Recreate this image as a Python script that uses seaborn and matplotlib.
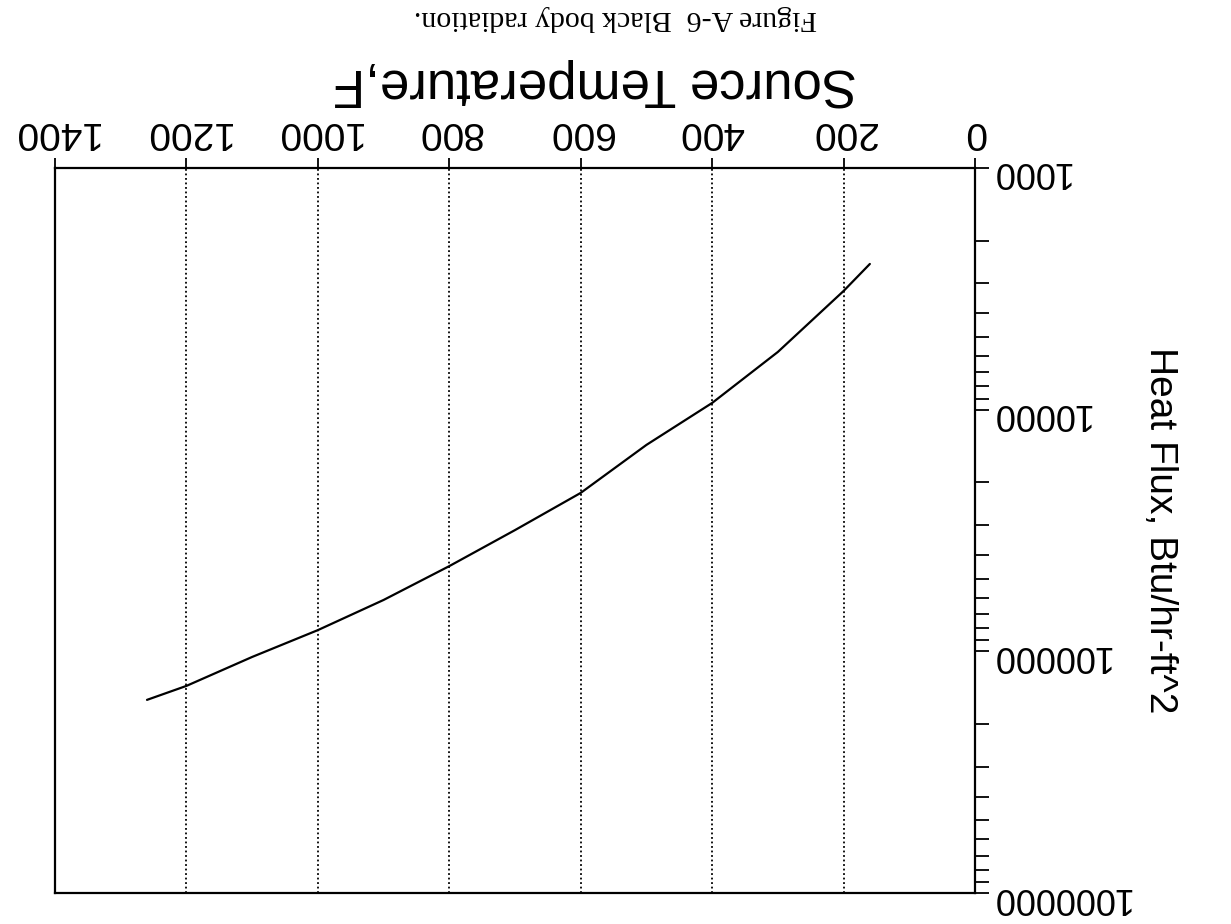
import matplotlib
matplotlib.use("Agg")
import matplotlib.pyplot as plt
import matplotlib.ticker as mticker
import seaborn as sns
import pandas as pd

# Data (Source temperature in F, heat flux in Btu/hr-ft^2)
temperature_f = [160, 200, 300, 400, 500, 600, 700, 800, 900, 1000, 1100, 1200, 1260]
heat_flux = [2495, 3228, 5770, 9380, 13990, 22100, 31500, 44400, 61300, 81700, 105500, 139000, 158800]

x_ticks = [0, 200, 400, 600, 800, 1000, 1200, 1400]
y_ticks = [1000, 10000, 100000, 1000000]

title_text = "Figure A-6  Black body radiation."
x_label = "Source Temperature,F"
y_label = "Heat Flux, Btu/hr-ft^2"

sns.set_style("ticks")
plt.rcParams["font.family"] = ["Liberation Sans", "DejaVu Sans"]
plt.rcParams["text.color"] = "black"
plt.rcParams["axes.labelcolor"] = "black"
plt.rcParams["xtick.color"] = "black"
plt.rcParams["ytick.color"] = "black"

fig = plt.figure(figsize=(12.31, 9.24), dpi=100)
ax = fig.add_axes([55 / 1231, 1 - 893 / 924, 920 / 1231, 725 / 924])

df = pd.DataFrame({"T": temperature_f, "Q": heat_flux})
sns.lineplot(data=df, x="T", y="Q", ax=ax, color="black", linewidth=1.6)

ax.set_yscale("log")
ax.set_xlim(1400, 0)
ax.set_ylim(1e6, 1e3)

ax.set_xticks(x_ticks)
ax.set_yticks(y_ticks)
ax.yaxis.set_major_formatter(mticker.FuncFormatter(lambda v, p: f"{int(round(v))}"))
ax.yaxis.set_minor_locator(mticker.LogLocator(base=10, subs=range(2, 10)))
ax.yaxis.set_minor_formatter(mticker.NullFormatter())

ax.xaxis.tick_top()
ax.yaxis.tick_right()
ax.tick_params(axis="x", which="major", direction="out", length=7, width=1.3,
               labelsize=28, pad=6, colors="black", labelrotation=180)
ax.tick_params(axis="y", which="both", direction="out", length=10, width=1.3,
               labelsize=26, pad=1, colors="black", labelrotation=180)

ax.grid(axis="x", which="major", color="black", linestyle=(0, (1, 1.5)), linewidth=1.3)
ax.grid(axis="y", which="both", visible=False)

for s in ax.spines.values():
    s.set_visible(True)
    s.set_color("black")
    s.set_linewidth(1.6)

ax.set_xlabel(x_label, fontsize=38, rotation=180, ha="center", va="center", color="black")
ax.xaxis.set_label_position("top")
ax.xaxis.set_label_coords((595 - 55) / 920, 1 + (168 - 97) / 725)

ax.set_ylabel(y_label, fontsize=28, rotation=270, ha="center", va="center", color="black")
ax.yaxis.set_label_position("right")
ax.yaxis.set_label_coords((1178 - 55) / 920, 0.5)

fig.text(0.5, 1 - 18 / 924, title_text, fontsize=21.5, rotation=180, color="black",
         ha="center", va="center", family=["Liberation Serif", "DejaVu Serif"])

fig.savefig("out.png", dpi=100, facecolor="white")
